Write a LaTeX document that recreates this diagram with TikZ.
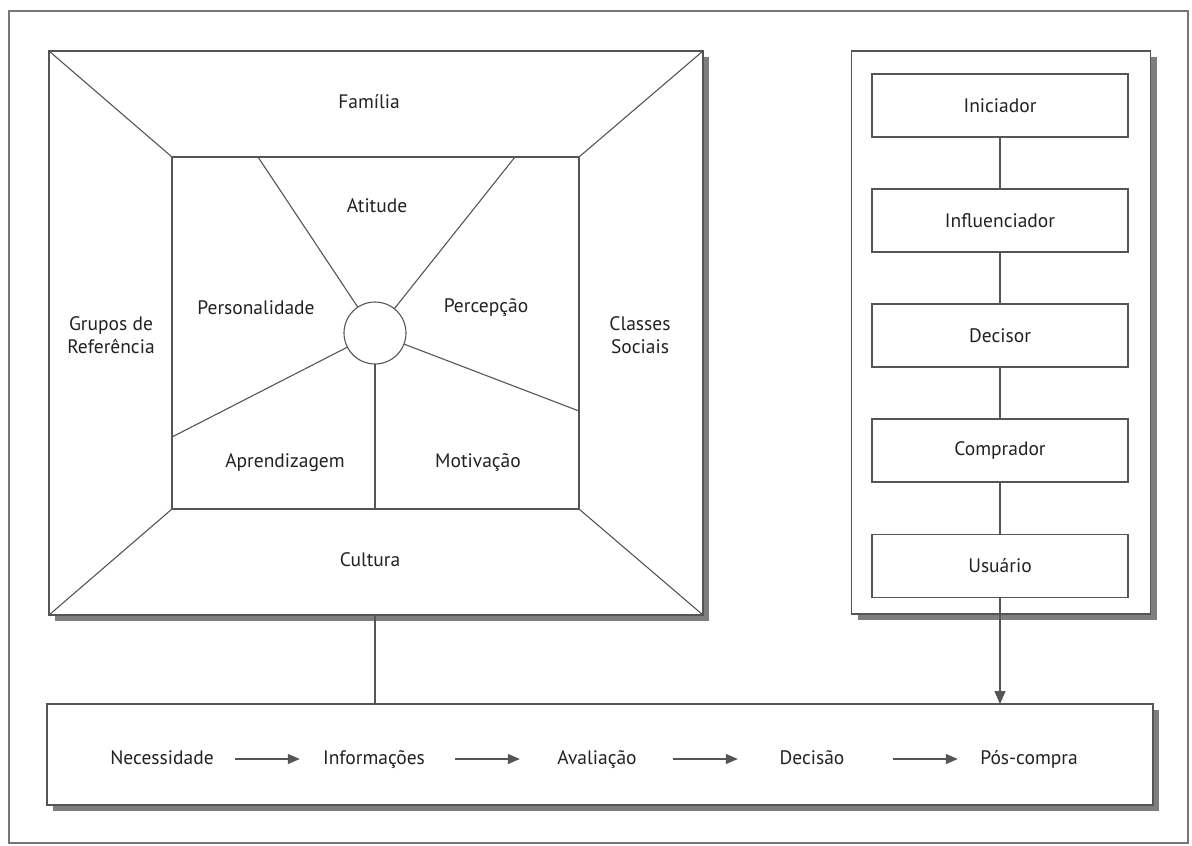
\documentclass[tikz,border=0pt]{standalone}
\usepackage{fontspec}
\setmainfont{PT Sans}
\usetikzlibrary{shadows,arrows.meta}
\definecolor{ln}{HTML}{555555}
\definecolor{tx}{HTML}{222222}
\definecolor{sh}{HTML}{7E7E7E}
\begin{document}
\begin{tikzpicture}[x=1pt,y=-1pt,
  every node/.style={text=tx,font=\fontsize{19.5}{23}\selectfont},
  panelbox/.style={draw=ln,line width=1.3pt,fill=white,inner sep=0,outer sep=0,
     drop shadow={shadow xshift=6pt,shadow yshift=-6pt,fill=sh,opacity=1}},
  rolebox/.style={draw=ln,line width=1.1pt,fill=white,inner sep=0,outer sep=0,minimum width=256pt,minimum height=63pt},
  plain/.style={draw=ln,line width=1.1pt,inner sep=0,outer sep=0},
  conn/.style={draw=ln,line width=1.1pt},
  flow/.style={draw=ln,line width=1.1pt,-{Triangle[length=13pt,width=11pt]}},
  step arrow/.style={draw=ln,line width=1.2pt,-{Triangle[length=12pt,width=10pt]}},
  lbl/.style={align=center,inner sep=0pt},
  steplbl/.style={inner sep=0pt,minimum width=110pt,text height=14pt,text depth=4pt}]
\useasboundingbox (0,0) rectangle (1192,846);
\fill[white] (0,0) rectangle (1192,846);
\node[plain,draw=ln!80,minimum width=1179pt,minimum height=832pt] (frame) at (598.5,427) {};

% left square
\node[panelbox,minimum width=654pt,minimum height=564pt] (sq) at (376,333) {};
\node[plain,minimum width=407pt,minimum height=352pt] (inr) at (375.5,333) {};
\draw[conn] (sq.north west) -- (inr.north west);
\draw[conn] (sq.north east) -- (inr.north east);
\draw[conn] (sq.south west) -- (inr.south west);
\draw[conn] (sq.south east) -- (inr.south east);
\node[plain,circle,minimum size=62pt] (c) at (375,333) {};
\coordinate (s1) at (258,157);
\coordinate (s2) at (515,157);
\coordinate (s3) at (579,411);
\coordinate (s4) at (172,437);
\coordinate (s5) at (375,509);
\draw[conn] (c) -- (s1);
\draw[conn] (c) -- (s2);
\draw[conn] (c) -- (s3);
\draw[conn] (c) -- (s4);
\draw[conn] (c) -- (s5);

\node[lbl] (fam) at (369,102) {Família};
\node[lbl] (ati) at (377,206) {Atitude};
\node[lbl] (per) at (256,308) {Personalidade};
\node[lbl] (pcp) at (486,308) {Percepção};
\node[lbl] (grp) at (111,335) {Grupos de\\Referência};
\node[lbl] (cls) at (640,335) {Classes\\Sociais};
\node[lbl] (apr) at (285,463) {Aprendizagem};
\node[lbl] (mot) at (478,463) {Motivação};
\node[lbl] (cul) at (370,560) {Cultura};

% right panel
\node[panelbox,minimum width=299pt,minimum height=563pt] (pan) at (1001,332.5) {};
\node[rolebox] (b1) at (1000,105.5) {Iniciador};
\node[rolebox] (b2) at (1000,220.5) {Influenciador};
\node[rolebox] (b3) at (1000,335.5) {Decisor};
\node[rolebox] (b4) at (1000,450.5) {Comprador};
\node[rolebox] (b5) at (1000,566) {Usuário};
\draw[conn] (b1) -- (b2);
\draw[conn] (b2) -- (b3);
\draw[conn] (b3) -- (b4);
\draw[conn] (b4) -- (b5);

% bottom process box
\node[panelbox,minimum width=1106pt,minimum height=101pt] (proc) at (600,754.5) {};
\draw[flow] (b5.south) -- (b5.south |- proc.north);
\draw[conn] (sq.south -| c) -- (c |- proc.north);

\node[steplbl] (n1) at (162,759) {Necessidade};
\node[steplbl] (n2) at (374,759) {Informações};
\node[steplbl] (n3) at (597,759) {Avaliação};
\node[steplbl] (n4) at (812,759) {Decisão};
\node[steplbl] (n5) at (1029,759) {Pós-compra};
\draw[step arrow,shorten <=18pt,shorten >=19pt] (n1) -- (n2);
\draw[step arrow,shorten <=26pt,shorten >=22pt] (n2) -- (n3);
\draw[step arrow,shorten <=21pt,shorten >=19pt] (n3) -- (n4);
\draw[step arrow,shorten <=26pt,shorten >=16pt] (n4) -- (n5);
\end{tikzpicture}
\end{document}
